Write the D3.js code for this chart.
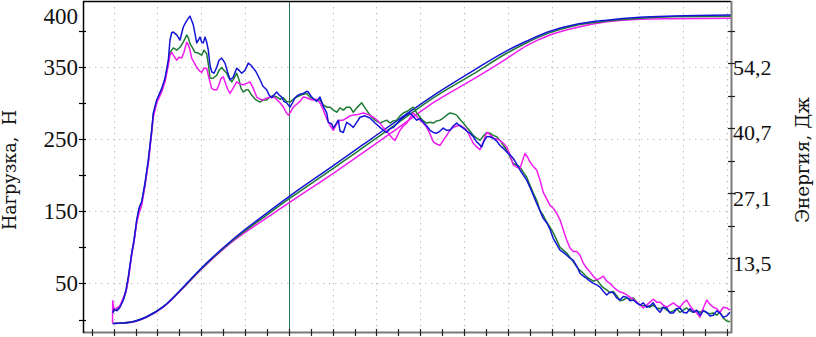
<!DOCTYPE html>
<html>
<head>
<meta charset="utf-8">
<script src="https://cdn.jsdelivr.net/npm/d3@7"></script>
<style>
body { margin: 0; background: #fff; }
</style>
</head>
<body>
<script>
var w = 816;
var h = 337;
// digits: Liberation Serif; Cyrillic titles need DejaVu Serif (has the glyphs)
var numFont = "Liberation Serif";
var titleFont = "DejaVu Serif";

// time axis (ms), no labels on the bottom axis
var tickStart = 0.87;
var tickStep = 2.19;
var tickCount = 30;
var markerTime = 20.58;

// left axis: load, N
var loadMajor = [50, 150, 250, 350];
var loadMinor = [0, 100, 200, 300];
var loadTop = 400;

// right axis: energy, J
var energyMajor = [13.55, 27.1, 40.65, 54.2];
var energyLabels = ["13,5", "27,1", "40,7", "54,2"];
var energyMinor = [6.775, 20.325, 33.875, 47.425, 60.975];

// load curves [t, N]
var loadBlue = [[2.97,9],[3.1,14],[3.4,12],[3.7,17],[4.03,27],[4.3,41],[4.53,59],[4.87,92],[5.1,110],[5.37,138],[5.6,154],[5.87,163],[6.2,189],[6.53,221],[6.87,262],[7.03,286],[7.37,304],[7.87,320],[8.2,334],[8.53,359],[8.7,387],[8.87,397],[9.03,398],[9.37,394],[9.7,387],[10.03,405],[10.3,412],[10.53,417],[10.7,420],[10.87,414],[11.03,408],[11.37,383],[11.55,387],[11.7,391],[11.87,384],[12.03,383],[12.2,391],[12.37,384],[12.53,373],[12.7,352],[12.87,343],[13.1,341],[13.37,349],[13.6,359],[13.87,362],[14.2,355],[14.45,343],[14.7,332],[15.0,335],[15.37,348],[15.6,345],[15.87,341],[16.2,345],[16.53,355],[16.8,352],[17.03,348],[17.3,343],[17.7,332],[18.0,323],[18.37,318],[18.6,311],[18.87,307],[19.1,311],[19.37,315],[19.6,311],[19.87,308],[20.1,302],[20.37,300],[20.7,294],[20.95,300],[21.2,307],[21.45,310],[21.7,312],[22.03,313],[22.37,316],[22.53,315],[22.87,308],[23.03,306],[23.37,302],[23.7,308],[24.03,295],[24.37,286],[24.53,273],[24.87,271],[25.03,265],[25.3,271],[25.53,276],[25.7,261],[26.03,259],[26.37,273],[26.7,270],[27.03,266],[27.37,273],[27.7,280],[28.2,282],[28.7,279],[29.2,272],[29.7,266],[30.03,262],[30.37,259],[30.7,264],[31.03,266],[31.37,271],[31.7,276],[32.2,282],[32.7,286],[33.03,281],[33.37,276],[33.7,278],[34.03,273],[34.37,268],[34.7,262],[35.03,259],[35.37,258],[35.7,261],[36.03,265],[36.37,262],[36.7,262],[37.03,268],[37.37,272],[37.7,268],[38.03,265],[38.37,261],[38.7,258],[39.03,253],[39.37,246],[39.6,243],[39.87,239],[40.1,247],[40.37,253],[40.7,253],[41.03,251],[41.37,247],[41.7,241],[42.03,237],[42.37,232],[42.7,228],[43.03,223],[43.37,215],[43.7,207],[44.03,200],[44.37,193],[44.7,183],[45.03,172],[45.3,163],[45.53,156],[45.8,147],[46.03,140],[46.37,134],[46.7,125],[47.03,112],[47.37,104],[47.7,96],[48.03,93],[48.37,89],[48.7,85],[49.03,82],[49.37,74],[49.7,64],[50.03,60],[50.37,57],[50.7,53],[51.03,50],[51.37,48],[51.7,45],[52.03,39],[52.37,34],[52.7,38],[53.03,37],[53.37,30],[53.7,27],[54.03,32],[54.37,31],[54.7,26],[55.03,27],[55.37,23],[55.7,20],[56.03,23],[56.37,17],[56.7,19],[57.03,23],[57.37,15],[57.7,10],[58.03,17],[58.37,16],[58.7,9],[59.03,9],[59.37,15],[59.7,16],[60.03,10],[60.37,9],[60.7,15],[61.03,10],[61.37,13],[61.7,6],[62.03,12],[62.37,10],[62.7,5],[63.03,6],[63.37,12],[63.7,9],[64.03,3],[64.37,5],[64.7,10]];

var loadGreen = [[2.97,10],[3.2,13],[3.5,15],[3.7,19],[4.03,27],[4.3,39],[4.53,57],[4.87,91],[5.1,109],[5.37,135],[5.6,153],[5.87,163],[6.2,187],[6.53,218],[6.87,261],[7.03,283],[7.37,302],[7.87,317],[8.2,331],[8.53,356],[8.7,370],[8.87,373],[9.03,376],[9.37,373],[9.7,377],[10.03,384],[10.37,394],[10.53,390],[10.7,382],[10.95,376],[11.2,370],[11.5,369],[11.87,366],[12.1,373],[12.37,368],[12.55,352],[12.7,334],[13.0,334],[13.37,338],[13.6,345],[13.87,349],[14.1,345],[14.37,341],[14.6,334],[14.87,329],[15.1,334],[15.37,341],[15.6,332],[15.8,320],[16.03,315],[16.3,318],[16.53,318],[16.8,312],[17.03,308],[17.3,304],[17.7,301],[18.0,304],[18.37,304],[18.7,308],[19.0,310],[19.37,308],[19.7,305],[20.03,307],[20.37,302],[20.7,301],[21.03,305],[21.37,308],[21.7,310],[22.03,312],[22.37,313],[22.7,308],[23.03,305],[23.37,304],[23.7,304],[24.03,297],[24.37,294],[24.7,294],[25.03,290],[25.37,287],[25.7,293],[26.03,290],[26.37,294],[26.7,294],[27.03,287],[27.37,293],[27.87,300],[28.2,293],[28.7,283],[29.2,276],[29.7,272],[30.03,274],[30.37,276],[30.7,272],[31.03,275],[31.37,276],[31.7,282],[32.03,286],[32.37,288],[32.7,291],[33.03,294],[33.37,286],[33.7,280],[34.03,275],[34.37,272],[34.7,273],[35.03,272],[35.37,275],[35.7,276],[36.03,279],[36.37,283],[36.7,286],[37.03,285],[37.37,283],[37.7,277],[38.03,272],[38.37,266],[38.7,261],[39.03,255],[39.37,251],[39.7,248],[40.03,254],[40.37,259],[40.7,258],[41.03,255],[41.37,253],[41.7,248],[42.03,241],[42.37,235],[42.7,225],[43.03,216],[43.37,214],[43.7,211],[44.03,204],[44.37,197],[44.7,186],[45.03,175],[45.37,165],[45.7,151],[46.03,144],[46.37,135],[46.7,128],[47.03,120],[47.37,110],[47.7,100],[48.03,96],[48.37,92],[48.7,86],[49.03,80],[49.37,73],[49.7,68],[50.03,64],[50.37,59],[50.7,56],[51.03,53],[51.37,55],[51.7,49],[52.03,44],[52.37,41],[52.7,37],[53.03,39],[53.37,33],[53.7,26],[54.03,27],[54.37,30],[54.7,28],[55.03,30],[55.37,24],[55.7,20],[56.03,19],[56.37,19],[56.7,17],[57.03,20],[57.37,16],[57.7,15],[58.03,17],[58.37,13],[58.7,10],[59.03,12],[59.37,15],[59.7,10],[60.03,13],[60.37,16],[60.7,12],[61.03,10],[61.37,12],[61.7,10],[62.03,13],[62.37,9],[62.7,8],[63.03,9],[63.37,6],[63.7,10],[64.03,2],[64.37,-2],[64.7,-3]];

var loadMagenta = [[2.95,-5],[2.97,26],[3.1,13],[3.4,16],[3.7,19],[4.03,30],[4.3,38],[4.53,55],[4.87,89],[5.1,107],[5.37,134],[5.6,147],[5.87,158],[6.2,185],[6.53,216],[6.87,259],[7.03,280],[7.37,300],[7.87,315],[8.2,329],[8.53,352],[8.7,366],[8.87,370],[9.03,366],[9.37,359],[9.6,363],[9.87,362],[10.1,370],[10.37,384],[10.53,380],[10.7,373],[10.87,362],[11.1,356],[11.37,349],[11.6,345],[11.87,342],[12.1,348],[12.37,348],[12.6,334],[12.87,320],[13.1,318],[13.37,318],[13.6,325],[13.8,334],[14.03,336],[14.3,325],[14.5,318],[14.7,313],[15.0,320],[15.37,329],[15.7,326],[16.03,325],[16.37,327],[16.7,329],[17.03,320],[17.37,308],[17.7,305],[18.03,304],[18.4,307],[18.87,308],[19.2,307],[19.7,300],[20.0,295],[20.3,287],[20.53,283],[20.75,287],[21.03,294],[21.37,298],[21.7,302],[22.03,308],[22.37,307],[22.7,305],[23.03,304],[23.37,305],[23.7,300],[24.03,290],[24.37,278],[24.7,269],[25.03,262],[25.37,271],[25.7,276],[26.03,276],[26.37,279],[26.7,282],[27.03,283],[27.5,284],[28.03,286],[28.5,284],[29.03,280],[29.5,275],[30.03,266],[30.37,261],[30.7,255],[31.0,250],[31.2,248],[31.45,255],[31.7,262],[32.03,268],[32.37,272],[32.7,279],[33.03,286],[33.37,281],[33.7,276],[34.03,272],[34.37,266],[34.7,257],[35.03,246],[35.37,243],[35.7,241],[36.03,248],[36.37,255],[36.7,262],[37.03,266],[37.37,268],[37.7,269],[38.03,266],[38.37,262],[38.7,253],[39.03,244],[39.37,239],[39.7,235],[40.03,246],[40.37,259],[40.7,256],[41.03,251],[41.37,250],[41.7,248],[42.03,244],[42.37,239],[42.7,228],[43.03,214],[43.37,211],[43.7,209],[43.95,220],[44.2,230],[44.45,225],[44.7,218],[45.03,212],[45.37,207],[45.7,193],[46.03,176],[46.37,167],[46.7,158],[47.03,154],[47.37,147],[47.7,138],[48.03,124],[48.37,110],[48.7,99],[49.03,94],[49.37,94],[49.7,89],[50.03,78],[50.37,71],[50.7,66],[51.03,60],[51.37,55],[51.7,57],[52.03,60],[52.37,53],[52.7,50],[53.03,45],[53.37,41],[53.7,38],[54.03,37],[54.37,34],[54.7,31],[55.03,28],[55.37,24],[55.7,20],[56.03,16],[56.37,20],[56.7,24],[57.03,28],[57.37,24],[57.7,24],[58.03,20],[58.37,17],[58.7,20],[59.03,23],[59.37,19],[59.7,17],[60.03,23],[60.37,27],[60.7,19],[61.03,13],[61.37,9],[61.7,3],[62.03,16],[62.37,27],[62.7,21],[63.03,17],[63.37,15],[63.7,10],[64.03,17],[64.37,16],[64.7,13]];

// energy curves, shared time points
var energyTime = [2.97, 4.7, 6.37, 8.03, 10.03, 11.7, 15.03, 18.37, 20.7, 25.03, 28.37, 31.7, 35.03, 39.03, 42.37, 44.37, 46.7, 49.03, 52.37, 55.7, 59.03, 64.8];
var energyBlue = [0, 0.25, 1.4, 3.5, 7.6, 11.25, 17.6, 23.0, 26.6, 32.9, 37.8, 42.7, 47.5, 52.7, 56.8, 58.85, 60.9, 62.2, 63.2, 63.8, 64.06, 64.27];
var energyGreen = [0, 0.25, 1.4, 3.5, 7.5, 11.1, 17.4, 22.6, 26.1, 32.3, 37.2, 42.1, 47.0, 52.0, 56.3, 58.5, 60.6, 62.0, 63.0, 63.6, 63.9, 64.0];
var energyMagenta = [0, 0.2, 1.3, 3.4, 7.4, 11.0, 17.2, 22.0, 25.3, 31.3, 36.1, 41.0, 46.0, 50.9, 55.2, 57.9, 60.1, 61.5, 62.85, 63.4, 63.5, 63.6];

var colors = { blue: "#1414d8", green: "#1f7a34", magenta: "#f01cf0" };

var mLeft = 83, mRight = 731, mTop = 1, mBottom = 332;

var svg = d3.select("body")
	.append("svg")
	.attr("width", w)
	.attr("height", h);

var x = d3.scaleLinear().domain([0, 64.8]).range([mLeft, mRight]);
var yLoad = d3.scaleLinear().domain([-17.3, 441]).range([mBottom, mTop]);
var yEnergy = d3.scaleLinear().domain([-1.77, 67.19]).range([mBottom, mTop]);

var tickTimes = d3.range(tickCount).map(function(i){
	return tickStart + tickStep * i;
});

// grid
var grid = svg.append("g")
	.attr("stroke", "#bdbdbd")
	.attr("stroke-width", 1)
	.attr("stroke-dasharray", "1.5,4.5");
grid.selectAll("line.h")
	.data(loadMajor)
	.enter()
	.append("line")
	.attr("class", "h")
	.attr("x1", mLeft)
	.attr("x2", mRight)
	.attr("y1", function(d){ return Math.round(yLoad(d)) + 0.5; })
	.attr("y2", function(d){ return Math.round(yLoad(d)) + 0.5; });
grid.selectAll("line.v")
	.data(tickTimes.filter(function(d, i){ return i % 2 == 1; }))
	.enter()
	.append("line")
	.attr("class", "v")
	.attr("x1", function(d){ return Math.round(x(d)) + 0.5; })
	.attr("x2", function(d){ return Math.round(x(d)) + 0.5; })
	.attr("y1", mTop)
	.attr("y2", mBottom);

// marker line
svg.append("line")
	.attr("x1", Math.round(x(markerTime)) + 0.5)
	.attr("x2", Math.round(x(markerTime)) + 0.5)
	.attr("y1", mTop)
	.attr("y2", mBottom)
	.attr("stroke", "#2a7660")
	.attr("stroke-width", 1);

// curves
var loadLine = d3.line()
	.x(function(d){ return x(d[0]); })
	.y(function(d){ return yLoad(d[1]); });

var energyLine = d3.line()
	.curve(d3.curveMonotoneX)
	.x(function(d){ return x(d[0]); })
	.y(function(d){ return yEnergy(d[1]); });

function zip(ts, vs){
	return ts.map(function(t, i){ return [t, vs[i]]; });
}

var energySeries = [
	{ c: colors.magenta, v: energyMagenta },
	{ c: colors.green, v: energyGreen },
	{ c: colors.blue, v: energyBlue }
];
svg.selectAll("path.energy")
	.data(energySeries)
	.enter()
	.append("path")
	.attr("class", "energy")
	.attr("fill", "none")
	.attr("stroke", function(d){ return d.c; })
	.attr("stroke-width", 1.5)
	.attr("d", function(d){ return energyLine(zip(energyTime, d.v)); });

var loadSeries = [
	{ c: colors.green, v: loadGreen },
	{ c: colors.magenta, v: loadMagenta },
	{ c: colors.blue, v: loadBlue }
];
svg.selectAll("path.load")
	.data(loadSeries)
	.enter()
	.append("path")
	.attr("class", "load")
	.attr("fill", "none")
	.attr("stroke", function(d){ return d.c; })
	.attr("stroke-width", 1.5)
	.attr("stroke-linejoin", "round")
	.attr("d", function(d){ return loadLine(d.v); });

// frame
svg.append("line")
	.attr("x1", mLeft).attr("x2", mRight)
	.attr("y1", mTop + 0.5).attr("y2", mTop + 0.5)
	.attr("stroke", "#000").attr("stroke-width", 1.5);
svg.append("line")
	.attr("x1", mRight + 0.5).attr("x2", mRight + 0.5)
	.attr("y1", mTop).attr("y2", mBottom + 1)
	.attr("stroke", "#7a7a7a").attr("stroke-width", 2);
svg.append("line")
	.attr("x1", mLeft).attr("x2", mRight + 1)
	.attr("y1", mBottom + 0.5).attr("y2", mBottom + 0.5)
	.attr("stroke", "#7a7a7a").attr("stroke-width", 2);
svg.append("line")
	.attr("x1", mLeft + 0.5).attr("x2", mLeft + 0.5)
	.attr("y1", mTop).attr("y2", mBottom + 1)
	.attr("stroke", "#000").attr("stroke-width", 1.5);

// bottom ticks
svg.selectAll("line.xt")
	.data(tickTimes)
	.enter()
	.append("line")
	.attr("class", "xt")
	.attr("x1", function(d){ return Math.round(x(d)) + 0.5; })
	.attr("x2", function(d){ return Math.round(x(d)) + 0.5; })
	.attr("y1", mBottom - 3)
	.attr("y2", mBottom + 4)
	.attr("stroke", "#222")
	.attr("stroke-width", 1.2);

// left ticks
svg.selectAll("line.yl")
	.data(loadMajor.concat(loadMinor, [loadTop]))
	.enter()
	.append("line")
	.attr("class", "yl")
	.attr("x1", mLeft - 4)
	.attr("x2", mLeft + 3)
	.attr("y1", function(d){ return Math.round(yLoad(d)) + 0.5; })
	.attr("y2", function(d){ return Math.round(yLoad(d)) + 0.5; })
	.attr("stroke", "#000")
	.attr("stroke-width", 1.2);

svg.selectAll("text.yl")
	.data(loadMajor.concat([loadTop]))
	.enter()
	.append("text")
	.attr("class", "yl")
	.attr("x", mLeft - 5)
	.attr("y", function(d){ return yLoad(d); })
	.attr("dy", function(d){ return d == loadTop ? "-0.3em" : "0.34em"; })
	.attr("text-anchor", "end")
	.attr("font-family", numFont)
	.attr("font-size", 23)
	.attr("fill", "#111")
	.text(function(d){ return d; });

// right ticks
svg.selectAll("line.yr")
	.data(energyMajor.concat(energyMinor))
	.enter()
	.append("line")
	.attr("class", "yr")
	.attr("x1", mRight - 3)
	.attr("x2", mRight + 4)
	.attr("y1", function(d){ return Math.round(yEnergy(d)) + 0.5; })
	.attr("y2", function(d){ return Math.round(yEnergy(d)) + 0.5; })
	.attr("stroke", "#222")
	.attr("stroke-width", 1.2);

svg.selectAll("text.yr")
	.data(energyMajor)
	.enter()
	.append("text")
	.attr("class", "yr")
	.attr("x", mRight + 2)
	.attr("y", function(d){ return yEnergy(d); })
	.attr("dy", "0.55em")
	.attr("text-anchor", "start")
	.attr("font-family", numFont)
	.attr("font-size", 22)
	.attr("fill", "#111")
	.text(function(d, i){ return energyLabels[i]; });

// axis titles
svg.append("text")
	.attr("transform", "translate(16,230) rotate(-90)")
	.attr("text-anchor", "start")
	.attr("font-family", titleFont)
	.attr("font-size", 18.5)
	.attr("fill", "#111")
	.attr("textLength", 120)
	.attr("lengthAdjust", "spacingAndGlyphs")
	.style("white-space", "pre")
	.text("Нагрузка,  Н");

svg.append("text")
	.attr("transform", "translate(809,223) rotate(-90)")
	.attr("text-anchor", "start")
	.attr("font-family", titleFont)
	.attr("font-size", 18.5)
	.attr("fill", "#111")
	.attr("textLength", 126)
	.attr("lengthAdjust", "spacingAndGlyphs")
	.text("Энергия, Дж");
</script>
</body>
</html>
